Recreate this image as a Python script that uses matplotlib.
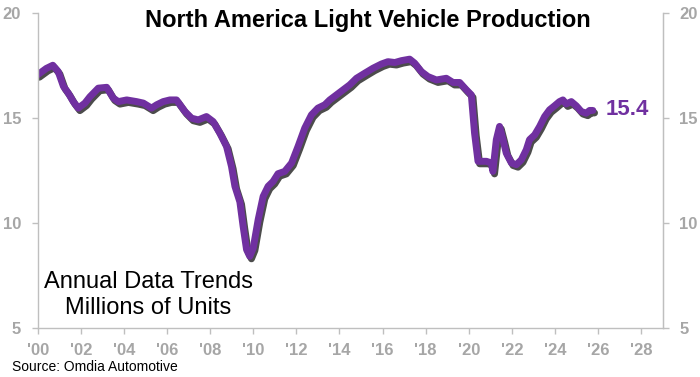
import matplotlib
matplotlib.use("Agg")
import matplotlib.pyplot as plt
import matplotlib.patheffects as pe

# North America light vehicle production, annualised (millions of units)
years = [
    2000.0, 2000.4, 2000.7, 2000.95, 2001.19, 2001.42, 2001.65, 2001.88,
    2002.19, 2002.42, 2002.81, 2003.2, 2003.5, 2003.74, 2004.13, 2004.59,
    2004.9, 2005.28, 2005.52, 2005.82, 2006.13, 2006.44, 2006.83, 2007.14,
    2007.45, 2007.83, 2008.14, 2008.45, 2008.76, 2008.99, 2009.15, 2009.38,
    2009.53, 2009.69, 2009.84, 2010.0, 2010.23, 2010.46, 2010.69, 2010.92,
    2011.15, 2011.46, 2011.78, 2012.08, 2012.39, 2012.7, 2013.0, 2013.32,
    2013.55, 2013.86, 2014.17, 2014.48, 2014.79, 2015.17, 2015.56, 2015.95,
    2016.25, 2016.57, 2016.88, 2017.26, 2017.49, 2017.8, 2018.11, 2018.5,
    2018.96, 2019.27, 2019.58, 2019.89, 2020.12, 2020.27, 2020.43, 2020.82,
    2021.05, 2021.12, 2021.28, 2021.43, 2021.59, 2021.74, 2021.98, 2022.21,
    2022.44, 2022.67, 2022.82, 2023.06, 2023.29, 2023.52, 2023.75, 2023.98,
    2024.21, 2024.37, 2024.52, 2024.76, 2024.99, 2025.22, 2025.45, 2025.61,
    2025.76,
]
units = [
    17.05, 17.35, 17.5, 17.2, 16.5, 16.17, 15.77, 15.46,
    15.7, 16.0, 16.41, 16.45, 15.94, 15.77, 15.85, 15.77,
    15.7, 15.46, 15.62, 15.77, 15.85, 15.85, 15.3, 14.98,
    14.9, 15.06, 14.82, 14.27, 13.64, 12.69, 11.74, 11.0,
    9.84, 8.73, 8.41, 8.81, 10.16, 11.26, 11.74, 11.97,
    12.34, 12.45, 12.85, 13.64, 14.51, 15.14, 15.46, 15.62,
    15.85, 16.09, 16.33, 16.57, 16.88, 17.12, 17.36, 17.56,
    17.67, 17.63, 17.72, 17.79, 17.6, 17.2, 16.96, 16.8,
    16.88, 16.68, 16.68, 16.33, 16.09, 14.27, 12.93, 12.93,
    12.85, 12.45, 13.96, 14.59, 13.96, 13.32, 12.85, 12.77,
    13.0, 13.48, 13.96, 14.19, 14.59, 15.06, 15.38, 15.57,
    15.77, 15.85, 15.66, 15.77, 15.57, 15.3, 15.22, 15.35,
    15.35,
]
last_label = "15.4"

x_ticks = list(range(2000, 2029, 2))
x_labels = ["'%02d" % (y % 100) for y in x_ticks]
y_ticks = [5, 10, 15, 20]

PURPLE = "#7030A0"
GRAY_TXT = "#A6A6A6"
GRAY_AX = "#BFBFBF"

plt.rcParams["font.family"] = ["Liberation Sans", "DejaVu Sans"]

fig = plt.figure(figsize=(7.0, 3.77), dpi=100)
ax = fig.add_axes([0.0539, 0.130, 0.8928, 0.8363])

ax.plot(
    years, units, color=PURPLE, lw=5, solid_capstyle="round", solid_joinstyle="round",
    path_effects=[pe.SimpleLineShadow(offset=(1.2, -1.8), shadow_color="black", alpha=0.7),
                  pe.Normal()],
)

ax.set_xlim(2000, 2029)
ax.set_ylim(5, 20)
ax.set_xticks(x_ticks)
ax.set_xticklabels(x_labels)
ax.set_yticks(y_ticks)

ax.spines["top"].set_visible(False)
for side in ("left", "bottom", "right"):
    ax.spines[side].set_color(GRAY_AX)
    ax.spines[side].set_linewidth(1.0)

ax.tick_params(axis="both", colors=GRAY_AX, length=4, width=1.0,
               labelcolor=GRAY_TXT, labelsize=12)
ax.tick_params(axis="x", pad=7)
ax.tick_params(axis="y", pad=8)
for lbl in ax.get_xticklabels() + ax.get_yticklabels():
    lbl.set_fontweight("bold")

ax2 = ax.twinx()
ax2.set_ylim(5, 20)
ax2.set_yticks(y_ticks)
for side in ("top", "left", "bottom"):
    ax2.spines[side].set_visible(False)
ax2.spines["right"].set_color(GRAY_AX)
ax2.tick_params(axis="y", colors=GRAY_AX, length=4, width=1.0,
                labelcolor=GRAY_TXT, labelsize=12, pad=8)
for lbl in ax2.get_yticklabels():
    lbl.set_fontweight("bold")

ax.text(2026.35, 15.38, last_label, color=PURPLE, fontsize=16,
        fontweight="bold", ha="left", va="center")

fig.text(0.526, 1 - 20 / 377, "North America Light Vehicle Production",
         ha="center", va="center", fontsize=17, fontweight="bold", color="black")

fig.text(148 / 700, 1 - 295 / 377, "Annual Data Trends\nMillions of Units",
         ha="center", va="center", fontsize=17, color="black", linespacing=1.2)

fig.text(12 / 700, 1 - 367 / 377, "Source: Omdia Automotive",
         ha="left", va="center", fontsize=10, color="black")

fig.savefig("out.png", dpi=100)
